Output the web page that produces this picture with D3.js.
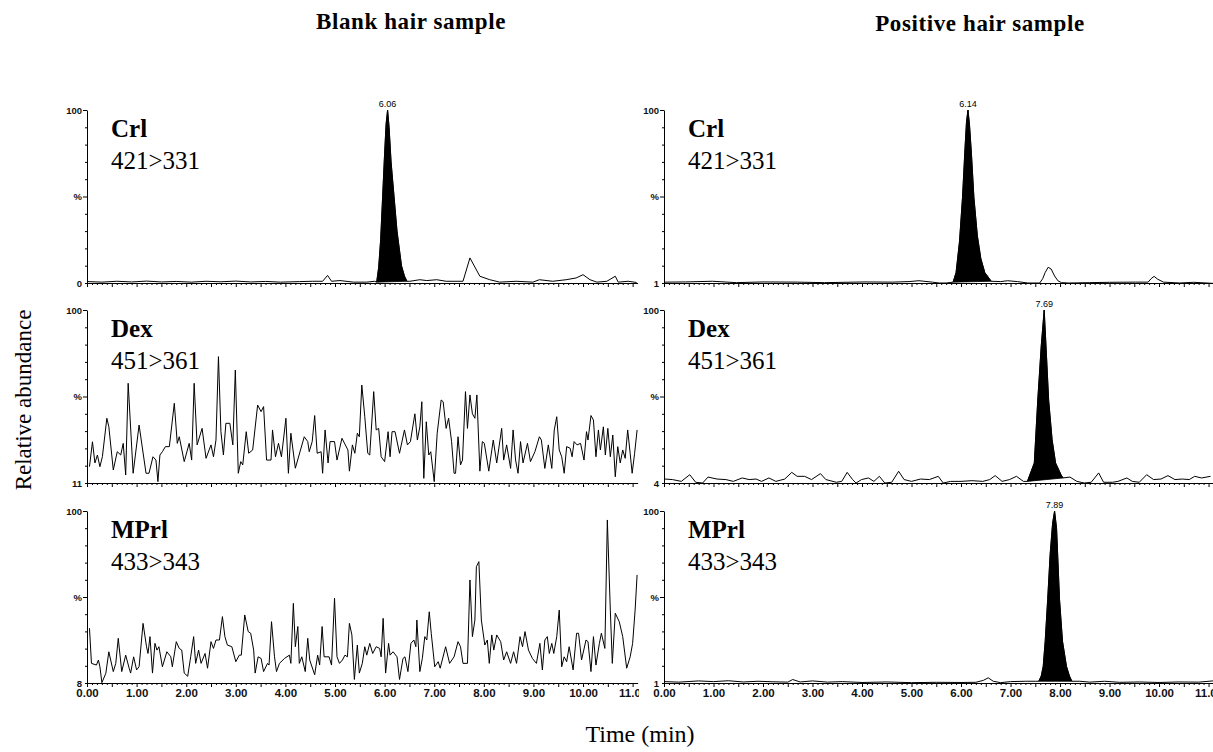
<!DOCTYPE html>
<html>
<head>
<meta charset="utf-8">
<script src="https://cdn.jsdelivr.net/npm/d3@7"></script>
<style>
  body { margin: 0; background: #fff; }
  svg { display: block; }
  .serif { font-family: "Liberation Serif", "Times New Roman", serif; }
  .sans { font-family: "Liberation Sans", Arial, sans-serif; }
</style>
</head>
<body>
<div class="chartWrap"></div>
<script>
//Data (time in min, relative abundance in %)
const samples = ["Blank hair sample", "Positive hair sample"];
const compounds = ["Crl", "Dex", "MPrl"];
const transitions = ["421>331", "451>361", "433>343"];
const baseLevels = [[0, 1], [11, 4], [8, 1]]; //bottom of each y axis [blank, positive]
const peakLabels = [["6.06", "6.14"], [null, "7.69"], [null, "7.89"]];
const timeTicks = [0, 1, 2, 3, 4, 5, 6, 7, 8, 9, 10, 11];

const blankCrl = [[0.02,0.8],[0.3,0.5],[0.6,1.0],[0.9,0.6],[1.2,1.1],[1.5,0.6],[1.8,0.9],[2.1,0.5],[2.4,1.0],[2.7,0.7],[3.0,1.1],[3.3,0.6],[3.6,0.9],[3.9,0.5],[4.28,0.8],[4.55,1.0],[4.75,1.0],[4.85,4.4],[4.93,1.0],[5.10,1.4],[5.37,0.5],[5.64,0.5],[5.80,1.0],
  [6.51,1.0],[6.71,1.9],[6.85,1.4],[7.05,1.9],[7.24,1.0],[7.58,1.0],[7.72,14.5],[7.92,3.9],[8.12,1.9],[8.32,0.5],[8.65,1.0],[8.99,0.5],[9.12,1.9],[9.39,1.0],[9.66,1.9],[9.86,2.9],[10.0,4.8],[10.14,1.9],[10.28,0.5],[10.48,1.0],[10.65,3.9],[10.71,0.5],[10.91,1.0],[11.08,0.3]];
const blankCrlPeak = [[5.84,0.5],[5.88,9],[5.92,25],[5.96,50],[6.00,75],[6.03,92],[6.06,100],[6.09,90],[6.13,70],[6.19,50],[6.25,30],[6.34,10],[6.40,4],[6.45,1]];

const blankDex = [[0.05,19.4],[0.11,32.2],[0.16,21.3],[0.21,25.4],[0.26,19.4],[0.31,24.5],[0.40,44.3],[0.44,40],[0.53,17.7],[0.61,27.1],[0.68,25.4],[0.73,31.4],[0.78,15.1],[0.83,62.3],[0.93,16],[1.05,40.8],[1.19,16],[1.25,16],[1.33,24.5],[1.39,22.8],[1.43,11.7],[1.47,25.4],[1.52,27.1],[1.58,29.7],[1.66,29.7],[1.76,52],[1.82,31.4],[1.86,34.8],[1.96,22],[2.06,31.4],[2.11,22.8],[2.16,62.3],[2.22,30.6],[2.32,39.1],[2.40,23.7],[2.50,30.6],[2.55,24.5],[2.60,33.1],[2.65,76],[2.70,37.4],[2.75,25.4],[2.80,41.7],[2.88,41.7],[2.94,30.6],[2.99,69.1],[3.05,16],[3.10,22],[3.14,20.3],[3.21,37.4],[3.26,26.3],[3.34,28],[3.44,51.1],[3.51,47.7],[3.56,50.3],[3.62,22.8],[3.71,22.8],[3.74,38.3],[3.80,24.5],[3.86,31.4],[3.92,24.5],[3.96,33.1],[4.01,44.3],[4.06,16],[4.11,36.6],[4.20,18.6],[4.38,34.8],[4.45,32.3],[4.48,27.1],[4.54,32.3],[4.59,45.7],[4.64,26.3],[4.72,27.1],[4.75,16],[4.80,38.3],[4.86,21.3],[4.90,32.3],[4.99,32.3],[5.04,22.8],[5.14,34],[5.26,28],[5.29,17.1],[5.35,30.6],[5.40,26.3],[5.45,36.6],[5.49,34.8],[5.54,61.4],[5.60,45.1],[5.66,26.3],[5.70,25.4],[5.78,58],[5.83,38.3],[5.88,39.1],[5.93,24.5],[6.00,22],[6.07,37.4],[6.11,24.5],[6.15,37.4],[6.21,37.4],[6.30,26.3],[6.40,38.3],[6.46,30.6],[6.52,32.3],[6.61,46.6],[6.66,33.1],[6.71,39.9],[6.75,52.8],[6.79,13.4],[6.84,42.5],[6.89,25.4],[6.93,27.1],[7.00,11.7],[7.06,36.6],[7.14,53.7],[7.18,52.8],[7.24,39.1],[7.29,44.3],[7.35,32.3],[7.40,16],[7.43,16],[7.48,34.8],[7.53,20.3],[7.57,22.8],[7.63,58],[7.67,39.1],[7.72,56.3],[7.77,46.6],[7.82,44.3],[7.86,56.3],[7.92,17.1],[7.97,32.3],[8.01,31.4],[8.10,17.1],[8.19,33.1],[8.26,21.3],[8.36,39.1],[8.40,22.8],[8.46,30.6],[8.54,18.5],[8.59,38.3],[8.64,22.8],[8.69,16],[8.74,32.3],[8.79,21.3],[8.88,31.4],[8.94,22],[9.03,27.1],[9.12,34.8],[9.16,33.1],[9.23,18.5],[9.30,30.6],[9.37,18.5],[9.42,38.3],[9.47,45.1],[9.52,28],[9.57,24.5],[9.62,16],[9.67,29.7],[9.74,28.9],[9.78,24.5],[9.82,32.3],[9.88,30.6],[9.95,31.4],[10.02,22.8],[10.07,37.4],[10.10,33.1],[10.16,45.7],[10.21,43.4],[10.26,24.5],[10.31,38.3],[10.35,28],[10.41,39.9],[10.45,25.4],[10.50,39.1],[10.55,24.5],[10.60,35.7],[10.65,14.2],[10.70,29.7],[10.75,21.3],[10.80,28],[10.85,23.7],[10.90,38.3],[10.95,26.3],[10.99,16],[11.04,26.3],[11.09,38.3]];

const blankMPrl = [[0.05,37.3],[0.09,18.5],[0.19,17.6],[0.23,20.3],[0.26,16.7],[0.30,8.2],[0.38,13.2],[0.44,24.7],[0.53,14.1],[0.58,18.5],[0.63,31.9],[0.70,14.1],[0.78,22.9],[0.85,15.9],[0.88,13.3],[0.94,22],[1.00,15],[1.05,16.7],[1.13,39.9],[1.20,27.4],[1.23,23.8],[1.27,32.8],[1.32,13.3],[1.37,29.2],[1.41,25.6],[1.45,27.4],[1.52,16.7],[1.61,24.7],[1.69,22],[1.72,16.7],[1.80,30.1],[1.86,26.5],[1.91,25.6],[1.96,13.3],[2.03,11.6],[2.09,22],[2.15,32.8],[2.19,18.5],[2.25,25.6],[2.30,18.5],[2.38,23.8],[2.43,15.9],[2.50,30.1],[2.55,26.5],[2.60,31],[2.67,31],[2.73,43.5],[2.78,32.8],[2.83,28.3],[2.92,27.4],[3.00,19.4],[3.07,22.9],[3.11,22.9],[3.18,44.4],[3.25,35.5],[3.30,34.6],[3.36,25.6],[3.39,13.3],[3.45,22],[3.51,21.1],[3.56,14.1],[3.64,18.5],[3.67,17.6],[3.72,40.8],[3.78,22],[3.82,14.1],[3.88,18.5],[3.98,21.1],[4.08,22.9],[4.11,18.5],[4.16,50.6],[4.20,27.4],[4.25,38.2],[4.28,18.5],[4.33,22],[4.40,14.1],[4.45,31.9],[4.49,20.3],[4.59,12.4],[4.65,22.9],[4.69,17.6],[4.74,38.2],[4.78,22],[4.88,22],[4.93,17.6],[4.99,53.3],[5.04,22],[5.09,18.5],[5.15,20.3],[5.20,22.9],[5.25,22],[5.29,39.9],[5.34,33.7],[5.39,9.9],[5.45,28.3],[5.49,13.3],[5.55,18.5],[5.60,27.4],[5.64,22.9],[5.70,29.2],[5.76,23.8],[5.83,27.4],[5.90,26.5],[5.93,22],[5.97,42.6],[6.02,13.3],[6.08,29.2],[6.11,22.9],[6.17,24.7],[6.25,22],[6.30,9.9],[6.37,21.1],[6.41,22],[6.47,14.1],[6.53,29.2],[6.59,31],[6.63,27.4],[6.65,41.7],[6.71,14.1],[6.76,21.1],[6.81,32.8],[6.85,31],[6.90,46.1],[6.94,34.6],[7.01,16.7],[7.08,19.4],[7.12,15.9],[7.23,27.4],[7.31,18.5],[7.40,22],[7.48,30.1],[7.53,27.4],[7.58,18.5],[7.67,18.5],[7.72,63.1],[7.77,32.8],[7.82,41.7],[7.85,70.2],[7.90,72.9],[7.95,41.7],[8.02,28.3],[8.07,31],[8.11,18.5],[8.16,33.7],[8.20,25.6],[8.26,33.7],[8.34,30.1],[8.40,20.3],[8.46,24.7],[8.54,18.5],[8.60,24.7],[8.66,18.5],[8.73,32.8],[8.78,27.4],[8.83,35.5],[8.90,25.6],[8.98,21.1],[9.06,18.5],[9.13,29.2],[9.18,15],[9.23,31],[9.28,32.8],[9.32,23.8],[9.37,29.2],[9.41,23.8],[9.47,32.8],[9.52,47],[9.57,16.7],[9.62,22],[9.67,19.4],[9.72,27.4],[9.80,15],[9.87,34.6],[9.91,34.6],[9.97,20.3],[10.06,31],[10.10,30.1],[10.16,14.1],[10.21,32.8],[10.26,17.6],[10.33,29.2],[10.37,34.6],[10.44,26.5],[10.49,95.2],[10.55,47],[10.59,18.5],[10.65,45.3],[10.73,40.8],[10.80,32.8],[10.88,15.9],[10.95,22],[11.00,29.2],[11.05,47],[11.09,65.8]];

const posCrl = [[0.02,1.5],[0.43,1.6],[0.98,2.0],[1.46,1.2],[2.0,1.6],[2.69,1.5],[3.24,1.2],[4.06,1.6],[4.61,1.5],[4.95,1.8],[5.15,2.3],[5.42,1.5],[5.56,1.0],[5.70,1.0],
  [6.80,1.8],[6.94,2.3],[7.14,1.8],[7.35,1.0],[7.59,1.0],[7.65,3.5],[7.70,7],[7.76,10],[7.82,9],[7.89,5],[7.96,2.2],[8.03,1.2],[8.17,1.0],[8.6,1.2],[9.0,1.4],[9.53,1.5],[9.78,1.5],[9.84,3.5],[9.90,4.8],[9.97,3.2],[10.09,1.5],[10.42,1.0],[10.70,1.4],[11.09,0.8]];
const posCrlPeak = [[5.84,1.5],[5.90,7],[5.97,25],[6.03,50],[6.08,78],[6.11,93],[6.14,100],[6.17,92],[6.21,75],[6.26,50],[6.33,28],[6.40,15],[6.48,7],[6.61,2]];

const posDex = [[0.02,6.2],[0.17,5.9],[0.35,4.9],[0.52,8.6],[0.64,4.4],[0.78,4],[0.89,7.3],[1.07,6.2],[1.25,5.9],[1.40,4.9],[1.58,6.8],[1.72,5.9],[1.86,6.2],[1.97,4.9],[2.12,6.8],[2.26,4.9],[2.44,6.2],[2.58,9.9],[2.69,7.7],[2.84,7.7],[2.98,5.9],[3.16,9.2],[3.27,5.9],[3.48,4.4],[3.59,4.9],[3.70,9.9],[3.81,5.9],[3.88,4],[3.99,5.9],[4.13,6.8],[4.24,4.9],[4.35,7.7],[4.46,4],[4.60,4.4],[4.74,10.5],[4.85,5.9],[5.00,4.9],[5.18,6.2],[5.36,5.9],[5.54,7.7],[5.64,4],[5.79,4.9],[6.00,4.9],[6.22,5.3],[6.44,4.9],[6.58,5.9],[6.69,8.1],[6.83,4.9],[6.98,5.9],[7.12,7.7],[7.26,4.9],
  [8.20,7.3],[8.34,4.9],[8.49,4],[8.63,4.4],[8.78,9.6],[8.88,4.4],[9.06,4.4],[9.17,4.9],[9.35,6.8],[9.46,4.9],[9.60,4.4],[9.75,8.6],[9.89,5.9],[10.04,6.2],[10.18,8.1],[10.32,5.9],[10.47,6.2],[10.61,5.9],[10.72,7.7],[10.86,6.8],[11.04,7.7]];
const posDexPeak = [[7.34,4.9],[7.48,15.1],[7.55,50],[7.62,80],[7.68,100],[7.72,78],[7.77,50],[7.84,28],[7.91,15.1],[8.02,8.6],[8.06,6.8]];

const posMPrl = [[0.02,1.8],[0.3,1.5],[0.7,2.2],[1.0,1.8],[1.3,2.3],[1.6,1.6],[1.9,2.0],[2.2,1.7],[2.5,1.5],[2.6,3.0],[2.75,1.6],[3.0,2.2],[3.3,1.5],[3.6,1.8],[4.0,1.3],[4.5,1.6],[5.0,1.2],[5.5,1.4],[6.0,1.3],[6.3,1.4],[6.45,2.5],[6.55,4],[6.65,2.0],[6.8,1.2],[7.0,1.8],[7.3,2.0],[7.5,2.0],
  [8.4,2.0],[8.6,1.5],[8.9,2.0],[9.2,1.4],[9.6,1.6],[10.0,1.3],[10.4,1.6],[10.8,1.5],[11.09,2.2]];
const posMPrlPeak = [[7.57,2],[7.62,5],[7.66,10.6],[7.70,25],[7.75,49],[7.80,75],[7.85,93],[7.89,100],[7.93,90],[7.99,49],[8.05,25],[8.13,10.6],[8.19,5],[8.24,2]];

const traces = [[blankCrl, posCrl], [blankDex, posDex], [blankMPrl, posMPrl]];
const peaks = [[blankCrlPeak, posCrlPeak], [[], posDexPeak], [[], posMPrlPeak]];

//Layout
const w = 1213, h = 752, tMax = 11.1;
const cols = [{x0: 87, x1: 637.6, title: 411, ty: 29}, {x0: 664, x1: 1213.5, title: 980, ty: 31}];
const rows = [{top: 110, base: 283}, {top: 310, base: 483}, {top: 511, base: 683}];

let chart = d3.select(".chartWrap").append("svg").attr("width", w).attr("height", h);
chart.append("rect").attr("width", w).attr("height", h).attr("fill", "#fff");

//Clip for left time labels (the 11.00 is cut by the next panel)
chart.append("clipPath").attr("id", "clipLeft").append("rect").attr("x", 0).attr("y", 0).attr("width", 639).attr("height", h);

cols.forEach(function(c, ci) {
  let x = d3.scaleLinear().domain([0, tMax]).range([c.x0, c.x1]);
  chart.append("text").attr("class", "serif").text(samples[ci])
    .attr("x", c.title).attr("y", c.ty).attr("text-anchor", "middle")
    .attr("font-size", 23).attr("font-weight", "bold").attr("letter-spacing", 0.6);

  rows.forEach(function(r, ri) {
    let base = baseLevels[ri][ci];
    let y = d3.scaleLinear().domain([base, 100]).range([r.base, r.top]);
    let frac = d3.scaleLinear().domain([0, 1]).range([r.base, r.top]);
    let g = chart.append("g");

    //x axis with 0.1 min ticks
    let minor = d3.range(0, 111).map(function(i) {return i / 10;});
    g.append("g").attr("transform", "translate(0," + r.base + ")")
      .call(d3.axisBottom(x).tickValues(minor).tickSize(2).tickSizeOuter(0).tickFormat(""))
      .call(function(a) {
        a.select(".domain").attr("stroke", "#000");
        a.selectAll(".tick line").attr("stroke", "#000")
          .attr("y2", function(d) {return Math.round(d * 10) % 5 === 0 ? 4 : 2;});
      });
    if (ri === 2) {
      g.append("g").attr("transform", "translate(0," + r.base + ")")
        .attr("clip-path", ci === 0 ? "url(#clipLeft)" : null)
        .call(d3.axisBottom(x).tickValues(timeTicks).tickSize(0).tickFormat(d3.format(".2f")))
        .call(function(a) {
          a.select(".domain").remove();
          a.selectAll("text").attr("class", "sans").attr("font-size", 11.5).attr("font-weight", "bold")
            .attr("fill", "#111").attr("dy", "0.95em");
        });
    }

    //y axis (relative scale of the panel)
    let yt = d3.range(0, 11).map(function(i) {return i / 10;});
    g.append("g").attr("transform", "translate(" + c.x0 + ",0)")
      .call(d3.axisLeft(frac).tickValues(yt).tickSize(2).tickSizeOuter(0)
        .tickFormat(function(d) {return d === 1 ? "100" : d === 0.5 ? "%" : d === 0 ? String(base) : "";}))
      .call(function(a) {
        a.select(".domain").attr("stroke", "#000");
        a.selectAll(".tick line").attr("stroke", "#000")
          .attr("x2", function(d) {return (d === 1 || d === 0.5) ? -4 : -2;});
        a.selectAll("text").attr("class", "sans").attr("font-size", 9.5).attr("font-weight", "bold")
          .attr("fill", "#111").attr("x", -5);
      });

    //trace
    let line = d3.line().x(function(d) {return x(d[0]);}).y(function(d) {return y(d[1]);});
    let pk = peaks[ri][ci];
    let all = traces[ri][ci].concat(pk).sort(function(a, b) {return a[0] - b[0];});
    if (pk.length) {
      g.append("path").attr("d", line(pk) + "Z").attr("fill", "#000").attr("stroke", "#000").attr("stroke-width", 0.8);
      let apex = d3.greatest(pk, function(d) {return d[1];});
      g.append("text").attr("class", "sans").text(peakLabels[ri][ci])
        .attr("x", x(apex[0])).attr("y", y(apex[1]) - 3).attr("text-anchor", "middle").attr("font-size", 9);
    }
    g.append("path").datum(all).attr("d", line).attr("fill", "none").attr("stroke", "#000").attr("stroke-width", 1);

    //compound and transition
    g.append("text").attr("class", "serif").text(compounds[ri])
      .attr("x", c.x0 + 24).attr("y", r.top + 27).attr("font-size", 25).attr("font-weight", "bold");
    g.append("text").attr("class", "serif").text(transitions[ri])
      .attr("x", c.x0 + 24).attr("y", r.top + 59).attr("font-size", 25);
  });
});

//Axis titles
chart.append("text").attr("class", "serif").text("Relative abundance")
  .attr("transform", "translate(31,400) rotate(-90)").attr("text-anchor", "middle").attr("font-size", 23);
chart.append("text").attr("class", "serif").text("Time (min)")
  .attr("x", 640).attr("y", 742).attr("text-anchor", "middle").attr("font-size", 24);
</script>
</body>
</html>
